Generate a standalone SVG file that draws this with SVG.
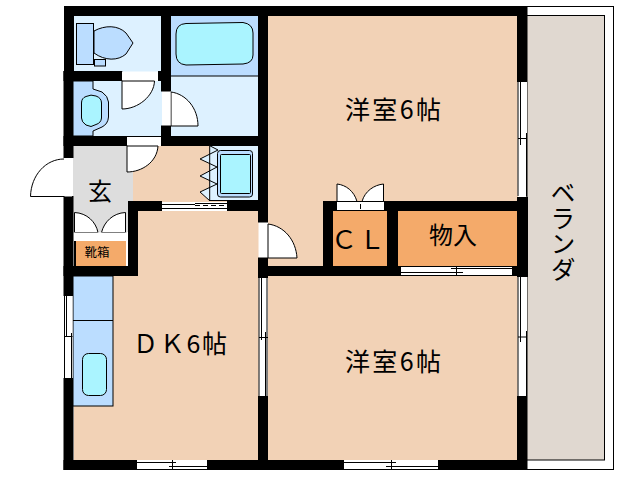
<svg xmlns="http://www.w3.org/2000/svg" width="638" height="480" viewBox="0 0 638 480">
<style>
.wall{fill:#000}
.room{fill:#F2D2B6}
.store{fill:#F4AA6A}
.wet{fill:#DDF1FF}
.blue{fill:#BBDDFF}
.cyan{fill:#AAF4FF}
.ln{stroke:#000;stroke-width:1;fill:none}
.fx{stroke:#000;stroke-width:1}
.door{fill:#fff;stroke:#000;stroke-width:1}
.open{fill:#fff}
text{font-family:"Noto Sans CJK JP","Noto Sans CJK SC",sans-serif;fill:#000}
.big{font-size:25px}
</style>
<rect width="638" height="480" fill="#fff"/>
<g id="balcony">
<rect x="527" y="6.500" width="86.500" height="463" class="open" stroke="#000"/>
<rect x="527" y="15.500" width="77.500" height="444.500" fill="#E0D8D0" stroke="#000"/>
<text class="big" x="563" y="180" style="writing-mode:vertical-rl" text-anchor="start" textLength="102">ベランダ</text>
</g>
<g id="floors">
<rect class="room" x="268" y="16" width="250" height="186"/>
<rect class="room" x="268" y="202" width="56" height="65"/>
<rect class="room" x="268" y="275" width="250" height="186"/>
<rect class="room" x="138" y="211" width="121" height="66"/>
<rect class="room" x="74" y="275" width="185" height="186"/>
<rect class="room" x="132" y="146" width="127" height="56"/>
<rect x="73" y="146" width="54" height="87" fill="#DDDDDD"/>
<rect x="127" y="172" width="6" height="60" fill="#DDDDDD"/>
<rect class="store" x="76" y="241" width="50" height="26"/>
<rect class="store" x="333" y="211" width="55" height="56"/>
<rect class="store" x="398" y="211" width="120" height="56"/>
<rect class="wet" x="74" y="16" width="88" height="56"/>
<rect class="wet" x="73" y="81" width="89" height="56"/>
<rect class="wet" x="171" y="76" width="87" height="61"/>
<rect class="blue" x="171" y="16" width="87" height="60"/>
</g>
<g id="walls">
<rect class="wall" x="64" y="6" width="463" height="10"/>
<rect class="wall" x="64" y="6" width="10" height="65"/>
<rect class="wall" x="63.500" y="71" width="10" height="87"/>
<rect class="wall" x="63.500" y="71" width="59" height="10"/>
<rect class="wall" x="158" y="71" width="13" height="10"/>
<rect class="wall" x="161" y="6" width="10" height="85"/>
<rect class="wall" x="161" y="126" width="10" height="20"/>
<rect class="wall" x="63.500" y="136" width="64" height="10"/>
<rect class="wall" x="161" y="136" width="107" height="10"/>
<rect class="wall" x="258" y="6" width="10" height="216"/>
<rect class="wall" x="517" y="6" width="10" height="76"/>
<rect class="wall" x="63.500" y="196" width="10" height="100"/>
<rect class="wall" x="63.500" y="266" width="74.500" height="10"/>
<rect class="wall" x="128" y="201" width="10" height="75"/>
<rect class="wall" x="128" y="201" width="34" height="10"/>
<rect class="wall" x="227" y="201" width="41" height="10"/>
<rect class="wall" x="74" y="241" width="2" height="26"/>
<rect class="wall" x="258" y="258" width="10" height="20"/>
<rect class="wall" x="258" y="266" width="143" height="10"/>
<rect class="wall" x="258" y="396" width="10" height="74"/>
<rect class="wall" x="323" y="201" width="10" height="66"/>
<rect class="wall" x="387" y="201" width="11" height="66"/>
<rect class="wall" x="323" y="201" width="205" height="10"/>
<rect class="wall" x="517" y="197" width="11" height="80"/>
<rect class="wall" x="512" y="266" width="16" height="10"/>
<rect class="wall" x="517" y="396" width="10" height="74"/>
<rect class="wall" x="63.500" y="378" width="10" height="92"/>
<rect class="wall" x="63.500" y="460" width="463.500" height="10"/>
</g>
<g id="bath">
<path class="ln" d="M171 76H258"/>
<path class="cyan fx" d="M186 23.500L214 23L243 22.500Q253 24 253 33V55Q253 63 243 64L214 64.500L186 65Q176 64 176 54V34Q176 24 186 23.500Z"/>
<path class="door" d="M171 126H198C198 108 186 94 171 92Z"/>
<path class="open" d="M162 91h8.500v35H162z"/>
<path class="ln" d="M161 91h10M161 126h10"/>
</g>
<g id="toilet">
<path class="blue fx" d="M94 31C105 25 118 25 126 33L133 43L126 54C118 61 105 61 94 53Z"/>
<rect class="blue fx" x="76.500" y="23.500" width="17" height="41"/>
<rect class="blue fx" x="94.500" y="59.500" width="11" height="6.500"/>
<path class="open" d="M122 71.500h36v9h-36z"/>
<path class="door" d="M122 81V109C138 109 154 96 154.500 81Z"/>
</g>
<g id="washroom">
<path class="blue fx" d="M73 81H93V89L102 92Q108 96 108.500 102V117Q108 124 102 127L93 131V136H73Z"/>
<path class="cyan fx" d="M86 96.500Q91 94 96 96Q101.500 98 101.500 103V118Q101 123 96 124.500L91 126.500L86 125Q81.500 122 81.500 118V103Q81.500 98 86 96.500Z"/>
<path class="open" d="M127 136.500h34v9h-34z"/>
<path class="door" d="M127 146V172C142 172 157 162 158 146Z"/>
<path class="ln" d="M127 136.500h34"/>
</g>
<g id="entrance">
<path class="open" d="M64.500 158h7.500v38.500h-7.500z"/>
<path class="door" d="M64 196.500H30.500C31 175 46 159 64 159"/>
<path class="door" d="M74.500 232.500V212.500C87 213 96 222 98 232.500Z"/>
<path class="door" d="M125.500 232.500V212.500C113 213 104 222 101.500 232.500Z"/>
<path class="open" d="M74 232.500h52.500v8.500H74z"/>
<text x="100" y="200" font-size="24" text-anchor="middle">玄</text>
<text x="97" y="257" font-size="12.500" text-anchor="middle">靴箱</text>
</g>
<g id="fridge">
<path class="wet" d="M210 146H258V201H210Z"/>
<path d="M209.700 145.700L218 150L200 159L217 167L200 176L217 184L200 192L209.700 200.700" fill="#DDF1FF" stroke="#000"/>
<path class="ln" d="M209.700 146V201"/>
<rect class="blue fx" x="217.500" y="150.500" width="35" height="46.500" rx="3"/>
<rect class="cyan fx" x="220.500" y="154.500" width="30" height="39" rx="1"/>
<path class="ln" d="M209 200.500H258"/>
</g>
<g id="kitchen">
<rect class="blue fx" x="73" y="276" width="40" height="130"/>
<path class="ln" d="M73 320.500H113"/>
<rect class="cyan fx" x="82.500" y="353.500" width="24" height="42" rx="6"/>
<text class="big" x="133" y="353" textLength="94">ＤＫ6帖</text>
</g>
<g id="rooms">
<text class="big" x="345" y="119" textLength="96">洋室6帖</text>
<text class="big" x="345" y="371" textLength="96">洋室6帖</text>
<text x="331" y="249" font-size="26" textLength="54">ＣＬ</text>
<text x="429" y="244" font-size="24" textLength="48">物入</text>
</g>
<g id="door-hall">
<path class="open" d="M258.500 222h8.500v36h-8.500z"/>
<path class="door" d="M268 258H297C296 240 284 226 268 224Z"/>
<path class="ln" d="M258 222h10M258 258h10"/>
</g>
<g id="closet-door">
<path class="open" d="M337 201.500h47v9h-47z"/>
<path class="ln" d="M337 201.500h47M337 210.500h47M360.500 204v5"/>
<path class="door" d="M337 201.500V184C346 185 354 191 357 201.500Z"/>
<path class="door" d="M383.500 201.500V184C374 185 365 191 362 201.500Z"/>
</g>
<g id="windows">
<g id="w-slide"><rect class="open" x="162" y="202" width="65" height="9"/><path class="ln" d="M162 204.500H195M162 208.500H227M195 203.500H227" /><path stroke="#000" stroke-width="1" stroke-dasharray="5 3" fill="none" d="M195 205.500H227"/></g>
<g id="w-left"><rect class="open" x="64.500" y="296" width="8" height="82"/><path class="ln" d="M64.500 296V378M66.500 296V337M71.500 333V378M64 336.500H72.500"/></g>
<g id="w-dk-right"><rect class="open" x="258.500" y="278" width="9" height="118"/><path class="ln" d="M259 278V396M261.500 278V340M265.500 332V396M267 278V396M259 337.500H268"/></g>
<g id="w-dk-bottom"><rect class="open" x="137" y="460" width="70" height="9.500"/><path class="ln" d="M137 462.500H176M169 466.500H207M172.500 460V469M137 469.500H207"/></g>
<g id="w-south"><rect class="open" x="344" y="460" width="94" height="9.500"/><path class="ln" d="M344 462.500H396M386 466.500H438M391.500 460V469M344 469.500H438"/></g>
<g id="w-store"><rect class="open" x="401" y="266" width="111" height="10"/><path class="ln" d="M401 266.500H512M451 268.500H512M401 272.500H463M456.500 267V276M401 275.500H512"/></g>
<g id="w-east1"><rect class="open" x="517.500" y="82" width="9.500" height="114"/><path class="ln" d="M518 82V196M520.500 82V145M526.500 133V196M518 138.500H527"/></g>
<g id="w-east2"><rect class="open" x="517.500" y="277" width="9.500" height="119"/><path class="ln" d="M518 277V396M520.500 277V342M526.500 331V396M518 337H527"/></g>
</g>
</svg>
